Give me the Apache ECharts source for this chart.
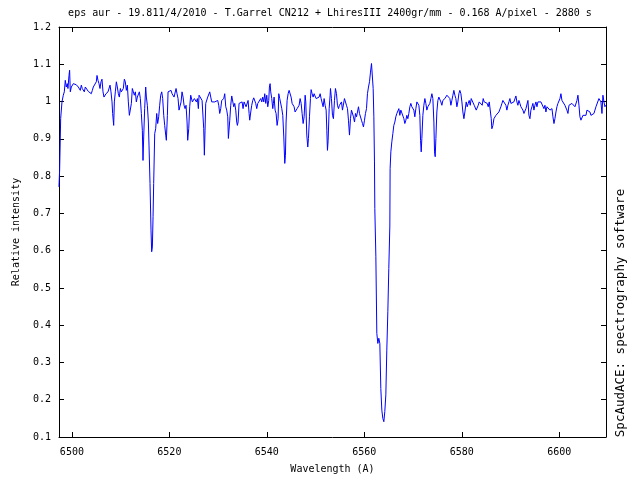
<!DOCTYPE html>
<html><head><meta charset="utf-8">
<script src="https://cdn.jsdelivr.net/npm/echarts@6/dist/echarts.min.js"></script>
<style>html,body{margin:0;padding:0;background:#fff}#c{width:640px;height:480px}</style>
</head><body><div id="c"></div>
<script>
// Spectrum: [wavelength (A), relative intensity]
const spectrumA = [
[6497.34,0.771],[6497.48,0.816],[6497.69,0.954],[6497.96,0.999],[6498.23,1.017],[6498.44,1.026],[6498.64,1.057],[6498.85,1.039],[6499.05,1.048],[6499.19,1.035],
[6499.40,1.070],[6499.53,1.084],[6499.67,1.026],[6499.88,1.039],[6500.08,1.044],[6500.29,1.048],[6500.49,1.044],[6500.70,1.051],[6500.90,1.045],[6501.11,1.048],
[6501.31,1.039],[6501.52,1.044],[6501.72,1.030],[6501.93,1.044],[6502.13,1.035],[6502.34,1.039],[6502.55,1.026],[6502.75,1.039],[6502.96,1.035],[6503.16,1.039],
[6503.37,1.027],[6503.57,1.026],[6503.78,1.030],[6503.98,1.021],[6504.19,1.030],[6504.39,1.039],[6504.60,1.035],[6504.80,1.044],[6505.01,1.053],[6505.15,1.070],
[6505.35,1.057],[6505.56,1.048],[6505.76,1.035],[6505.97,1.053],[6506.17,1.060],[6506.38,1.026],[6506.58,1.012],[6506.79,1.008],[6506.99,1.021],[6507.20,1.026],
[6507.41,1.026],[6507.61,1.027],[6507.82,1.044],[6508.02,1.026],[6508.23,0.999],[6508.36,0.968],[6508.57,0.936],[6508.71,0.999],[6508.91,1.026],[6509.12,1.053],
[6509.32,1.039],[6509.53,1.021],[6509.73,1.012],[6509.94,1.035],[6510.14,1.026],[6510.35,1.030],[6510.55,1.035],[6510.76,1.060],[6510.96,1.053],[6511.17,1.030],
[6511.38,1.044],[6511.58,0.999],[6511.79,0.963],[6511.99,0.959],[6512.20,0.995],[6512.40,1.035],[6512.61,1.026],[6512.81,1.017],[6513.02,1.026],[6513.22,0.999],
[6513.43,1.012],[6513.63,1.017],[6513.84,1.026],[6514.04,1.008],[6514.25,0.968],[6514.45,0.923],[6514.59,0.842],[6514.73,0.905],[6514.93,0.981],[6515.14,1.039],
[6515.28,1.012],[6515.48,0.990],[6515.69,0.945],[6515.82,0.883],[6516.03,0.780],[6516.23,0.655],[6516.37,0.597],[6516.51,0.610],[6516.65,0.691],[6516.78,0.780],
[6516.99,0.914],[6517.19,0.927],[6517.40,0.968],[6517.60,0.941],[6517.81,0.959],[6518.01,0.990],[6518.22,1.017],[6518.43,1.026],[6518.63,1.008],[6518.84,0.963],
[6519.04,0.936],[6519.25,0.910],[6519.38,0.896],[6519.59,0.963],[6519.73,1.026],[6519.93,1.030],[6520.14,1.026],[6520.34,1.030],[6520.55,1.021],[6520.75,1.017],
[6520.96,1.012],[6521.16,1.017],[6521.37,1.035],[6521.57,1.021],[6521.78,1.008],[6521.98,0.977],[6522.19,0.981],[6522.40,0.999],[6522.60,1.026],[6522.81,1.012],
[6523.01,0.990],[6523.22,0.981],[6523.42,0.990],[6523.63,0.945],[6523.76,0.896],[6523.97,0.927],[6524.17,0.986],[6524.38,1.017]
];
const spectrumB = [
[6524.52,1.012],[6524.72,0.999],[6524.93,1.003],[6525.13,1.008],[6525.34,1.012],[6525.54,0.999],[6525.75,1.008],[6525.95,0.981],[6526.09,1.017],[6526.30,1.019],
[6526.50,1.012],[6526.71,1.003],[6526.91,0.999],[6527.05,0.927],[6527.18,0.856],[6527.32,0.923],[6527.46,0.995],[6527.66,0.999],[6527.87,1.012],[6528.07,1.008],
[6528.28,1.026],[6528.49,1.012],[6528.69,0.999],[6528.90,0.995],[6529.10,1.003],[6529.31,0.999],[6529.51,1.003],[6529.72,0.999],[6529.92,1.003],[6530.13,0.990],
[6530.33,0.968],[6530.54,0.981],[6530.74,1.003],[6530.95,1.008],[6531.16,1.008],[6531.36,1.021],[6531.57,0.986],[6531.77,0.977],[6531.98,0.959],[6532.11,0.901],
[6532.25,0.905],[6532.39,0.950],[6532.59,0.990],[6532.80,1.015],[6533.00,1.015],[6533.21,0.986],[6533.41,0.995],[6533.62,0.977],[6533.82,0.945],[6533.96,0.936],
[6534.10,0.945],[6534.30,0.995],[6534.51,0.999],[6534.71,0.995],[6534.92,0.999],[6535.12,0.981],[6535.33,0.999],[6535.54,1.003],[6535.74,0.986],[6535.95,0.990],
[6536.15,1.003],[6536.36,0.968],[6536.49,0.950],[6536.70,0.972],[6536.90,0.990],[6537.11,1.003],[6537.31,1.010],[6537.52,1.008],[6537.72,0.995],[6537.93,0.981],
[6538.14,0.995],[6538.34,0.990],[6538.55,0.999],[6538.75,1.008],[6538.96,0.999],[6539.16,1.012],[6539.37,0.999],[6539.57,1.021],[6539.78,0.995],[6539.98,1.017],
[6540.19,0.986],[6540.39,1.003],[6540.53,1.039],[6540.67,1.048],[6540.80,1.026],[6541.01,1.008],[6541.22,0.981],[6541.35,0.995],[6541.49,1.012],[6541.70,0.977],
[6541.90,0.968],[6542.11,0.936],[6542.31,0.954],[6542.45,1.021],[6542.65,1.008],[6542.86,1.008],[6543.07,0.981],[6543.27,0.963],[6543.48,0.905],[6543.68,0.834],
[6543.82,0.856],[6543.95,0.945],[6544.16,1.003],[6544.37,1.021],[6544.57,1.030],[6544.78,1.026],[6544.98,1.012],[6545.19,0.995],[6545.39,0.990],[6545.60,0.986],
[6545.80,0.972],[6546.01,0.977],[6546.21,0.981],[6546.42,0.977],[6546.62,0.990],[6546.83,1.008],[6547.04,0.995],[6547.24,0.968],[6547.45,0.941],[6547.65,0.959],
[6547.86,1.017],[6547.99,0.999],[6548.20,0.910],[6548.40,0.878],[6548.54,0.901],[6548.75,0.959],[6548.95,1.008],[6549.09,1.032],[6549.29,1.021],[6549.50,1.012],
[6549.70,1.021],[6549.91,1.026],[6550.12,1.008],[6550.32,1.012],[6550.53,1.008],[6550.73,1.012],[6550.94,1.021],[6551.14,1.008],[6551.35,1.003],[6551.55,0.986],
[6551.76,1.008],[6551.96,0.990],[6552.17,0.977],[6552.31,0.923],[6552.44,0.869],[6552.58,0.896],[6552.79,0.981],[6552.99,1.017]
];
const spectrumHalpha = [
[6553.06,1.035],[6553.26,1.008],[6553.47,0.963],[6553.67,0.954],[6553.88,1.003],[6554.08,1.035],[6554.29,1.021],[6554.49,0.990],[6554.70,0.981],[6554.90,0.990],
[6555.11,0.995],[6555.32,0.999],[6555.52,0.977],[6555.73,0.981],[6555.93,1.008],[6556.14,1.012],[6556.34,0.990],[6556.55,0.981],[6556.75,0.950],[6556.96,0.910],
[6557.16,0.954],[6557.37,0.977],[6557.57,0.977],[6557.78,0.959],[6557.99,0.945],[6558.19,0.968],[6558.40,0.959],[6558.60,0.972],[6558.81,0.986],[6559.01,0.968],
[6559.22,0.968],[6559.42,0.950],[6559.63,0.941],[6559.83,0.932],[6560.04,0.950],[6560.24,0.968],[6560.45,0.981],[6560.65,1.021],[6560.86,1.039],[6561.07,1.053],
[6561.27,1.079],[6561.48,1.102],[6561.68,1.097],[6561.82,1.035],[6561.96,0.959],[6562.09,0.838],[6562.16,0.713],[6562.37,0.585],[6562.57,0.378],[6562.78,0.351],
[6562.98,0.365],[6563.19,0.351],[6563.39,0.230],[6563.60,0.172],[6563.80,0.150],[6564.01,0.141],[6564.21,0.168],[6564.42,0.213],[6564.62,0.333],[6564.83,0.436],
[6565.03,0.552],[6565.24,0.666],[6565.30,0.820],[6565.45,0.865],[6565.65,0.892],[6565.86,0.914],[6566.06,0.936],[6566.27,0.945],[6566.47,0.959],[6566.68,0.968],
[6566.88,0.972],[6567.09,0.981],[6567.29,0.963],[6567.50,0.977],[6567.71,0.977],[6567.91,0.981],[6568.12,0.954],[6568.32,0.941],[6568.53,0.950],[6568.73,0.963],
[6568.94,0.954],[6569.14,0.968],[6569.35,0.986],[6569.55,0.995],[6569.76,0.986],[6569.96,0.990],[6570.17,0.977],[6570.37,0.959],[6570.58,0.981],[6570.79,0.999],
[6570.99,1.003],[6571.20,0.990],[6571.40,0.963],[6571.54,0.896],[6571.68,0.865],[6571.81,0.901],[6572.02,0.963],[6572.22,0.990],[6572.43,1.008],[6572.63,0.995],
[6572.84,0.977],[6573.04,0.986],[6573.25,0.990],[6573.45,0.995],[6573.66,1.008],[6573.87,1.021],[6574.07,1.008],[6574.28,0.945],[6574.41,0.865],[6574.55,0.852],
[6574.69,0.901],[6574.89,0.972],[6575.10,1.003],[6575.30,1.012],[6575.51,1.008],[6575.71,0.999],[6575.92,0.990],[6576.12,1.003],[6576.33,0.999],[6576.54,1.008],
[6576.74,1.012],[6576.95,1.017],[6577.15,1.012],[6577.36,1.021],[6577.56,1.008],[6577.77,0.990],[6577.97,1.003],[6578.18,1.017],[6578.38,1.030],[6578.59,1.017],
[6578.79,1.008],[6579.00,0.986],[6579.20,0.999],[6579.41,1.021],[6579.61,1.030],[6579.82,1.021],[6580.03,0.999],[6580.23,0.972],[6580.44,0.954],[6580.64,0.972]
];
const spectrumRed = [
[6580.91,0.999],[6581.12,0.986],[6581.32,0.995],[6581.53,1.003],[6581.74,0.990],[6581.94,1.008],[6582.15,1.003],[6582.35,1.012],[6582.56,0.990],[6582.76,0.986],
[6582.97,0.977],[6583.17,0.981],[6583.38,0.990],[6583.58,0.999],[6583.79,1.003],[6583.99,0.999],[6584.20,0.990],[6584.40,1.008],[6584.61,0.999],[6584.82,0.999],
[6585.02,1.003],[6585.23,0.995],[6585.43,0.986],[6585.64,0.999],[6585.84,0.995],[6586.05,0.954],[6586.18,0.927],[6586.39,0.936],[6586.60,0.954],[6586.80,0.954],
[6587.01,0.963],[6587.21,0.963],[6587.42,0.968],[6587.62,0.972],[6587.83,0.977],[6588.03,0.986],[6588.24,0.995],[6588.44,1.003],[6588.65,1.003],[6588.85,0.999],
[6589.06,0.990],[6589.26,0.977],[6589.47,0.990],[6589.68,0.999],[6589.88,1.008],[6590.09,0.995],[6590.29,0.990],[6590.50,0.995],[6590.70,0.999],[6590.91,1.003],
[6591.11,1.015],[6591.32,0.999],[6591.52,0.990],[6591.73,1.003],[6591.93,0.995],[6592.14,0.986],[6592.34,0.981],[6592.55,0.977],[6592.76,0.968],[6592.96,0.972],
[6593.17,0.981],[6593.37,0.986],[6593.58,1.003],[6593.78,0.963],[6593.99,0.954],[6594.19,0.977],[6594.40,0.986],[6594.60,0.995],[6594.81,0.977],[6595.01,0.990],
[6595.22,0.999],[6595.43,0.986],[6595.63,0.999],[6595.84,0.995],[6596.04,1.003],[6596.25,0.999],[6596.45,1.003],[6596.66,0.999],[6596.86,0.981],[6597.07,0.990],
[6597.27,0.972],[6597.48,0.986],[6597.68,0.981],[6597.89,0.990],[6598.09,0.977],[6598.30,0.972],[6598.51,0.981],[6598.71,0.959],[6598.92,0.941],[6599.12,0.954],
[6599.33,0.972],[6599.53,0.986],[6599.74,0.995],[6599.94,0.999],[6600.15,1.008],[6600.35,1.021],[6600.56,1.003],[6600.76,1.008],[6600.97,1.003],[6601.17,0.990],
[6601.38,0.986],[6601.58,0.977],[6601.79,0.968],[6602.00,0.990],[6602.20,0.995],[6602.41,0.986],[6602.61,0.995],[6602.82,0.990],[6603.02,0.995],[6603.23,0.986],
[6603.43,0.981],[6603.64,1.003],[6603.84,1.017],[6604.05,0.990],[6604.25,0.959],[6604.46,0.950],[6604.66,0.945],[6604.87,0.963],[6605.07,0.968],[6605.28,0.959],
[6605.49,0.963],[6605.69,0.977],[6605.90,0.972],[6606.10,0.977],[6606.31,0.972],[6606.51,0.963],[6606.72,0.968],[6606.92,0.963],[6607.13,0.968],[6607.33,0.977],
[6607.54,0.986],[6607.74,0.986],[6607.95,0.990],[6608.15,1.008],[6608.36,1.003],[6608.56,0.999],[6608.77,0.968],[6608.97,1.017],[6609.18,0.999],[6609.38,0.986],
[6609.52,0.990]
];
const xTicks = [6500, 6520, 6540, 6560, 6580, 6600];
const yTicks = [0.1, 0.2, 0.3, 0.4, 0.5, 0.6, 0.7, 0.8, 0.9, 1.0, 1.1, 1.2];
const titleText = 'eps aur - 19.811/4/2010 - T.Garrel CN212 + LhiresIII 2400gr/mm - 0.168 A/pixel - 2880 s';
const xName = 'Wavelength (A)';
const yName = 'Relative intensity';
const sideText = 'SpcAudACE: spectrography software';

const FONT = 'DejaVu Sans Mono';
const spectrum = spectrumA.concat(spectrumB, spectrumHalpha, spectrumRed);
const xMin = 6497.35, xMax = 6609.6;
const fmtY = v => String(Math.round(v * 10) / 10);
const fmtX = v => String(Math.round(v));

const chart = echarts.init(document.getElementById('c'), null, {renderer: 'canvas'});
const baseX = {
  type: 'value', min: xMin, max: xMax,
  axisLine: {show: true, lineStyle: {color: '#000', width: 1}},
  splitLine: {show: false},
};
const baseY = {
  type: 'value', min: 0.1, max: 1.2, interval: 0.1,
  axisLine: {show: true, lineStyle: {color: '#000', width: 1}},
  splitLine: {show: false},
};
chart.setOption({
  animation: false,
  backgroundColor: '#fff',
  grid: {left: 59, right: 34, top: 27, bottom: 43, show: false},
  graphic: [
    {type: 'text', x: 330, y: 13, style: {text: titleText, font: '10px ' + FONT, fill: '#000', align: 'center', verticalAlign: 'middle'}},
    {type: 'text', x: 621, y: 313, rotation: Math.PI / 2, style: {text: sideText, font: '12.5px ' + FONT, fill: '#000', align: 'center', verticalAlign: 'middle'}}
  ],
  xAxis: [
    Object.assign({}, baseX, {
      position: 'bottom',
      name: xName, nameLocation: 'middle', nameGap: 27,
      nameTextStyle: {fontFamily: FONT, fontSize: 10, color: '#000'},
      axisTick: {show: true, inside: true, length: 5, customValues: xTicks, lineStyle: {color: '#000'}},
      axisLabel: {show: true, margin: 10, customValues: xTicks, formatter: fmtX, fontFamily: FONT, fontSize: 10, color: '#000'}
    }),
    Object.assign({}, baseX, {
      position: 'top',
      axisTick: {show: true, inside: true, length: 5, customValues: xTicks, lineStyle: {color: '#000'}},
      axisLabel: {show: false}
    })
  ],
  yAxis: [
    Object.assign({}, baseY, {
      position: 'left',
      name: yName, nameLocation: 'middle', nameGap: 38, nameRotate: 90,
      nameTextStyle: {fontFamily: FONT, fontSize: 10, color: '#000'},
      axisTick: {show: true, inside: true, length: 5, customValues: yTicks, lineStyle: {color: '#000'}},
      axisLabel: {show: true, margin: 8, customValues: yTicks, formatter: fmtY, fontFamily: FONT, fontSize: 10, color: '#000'}
    }),
    Object.assign({}, baseY, {
      position: 'right',
      axisTick: {show: true, inside: true, length: 5, customValues: yTicks, lineStyle: {color: '#000'}},
      axisLabel: {show: false}
    })
  ],
  series: [{
    type: 'line', data: spectrum, xAxisIndex: 0, yAxisIndex: 0,
    showSymbol: false, symbol: 'none', sampling: false,
    lineStyle: {color: '#0000ff', width: 1},
    clip: true
  }]
});
</script></body></html>
